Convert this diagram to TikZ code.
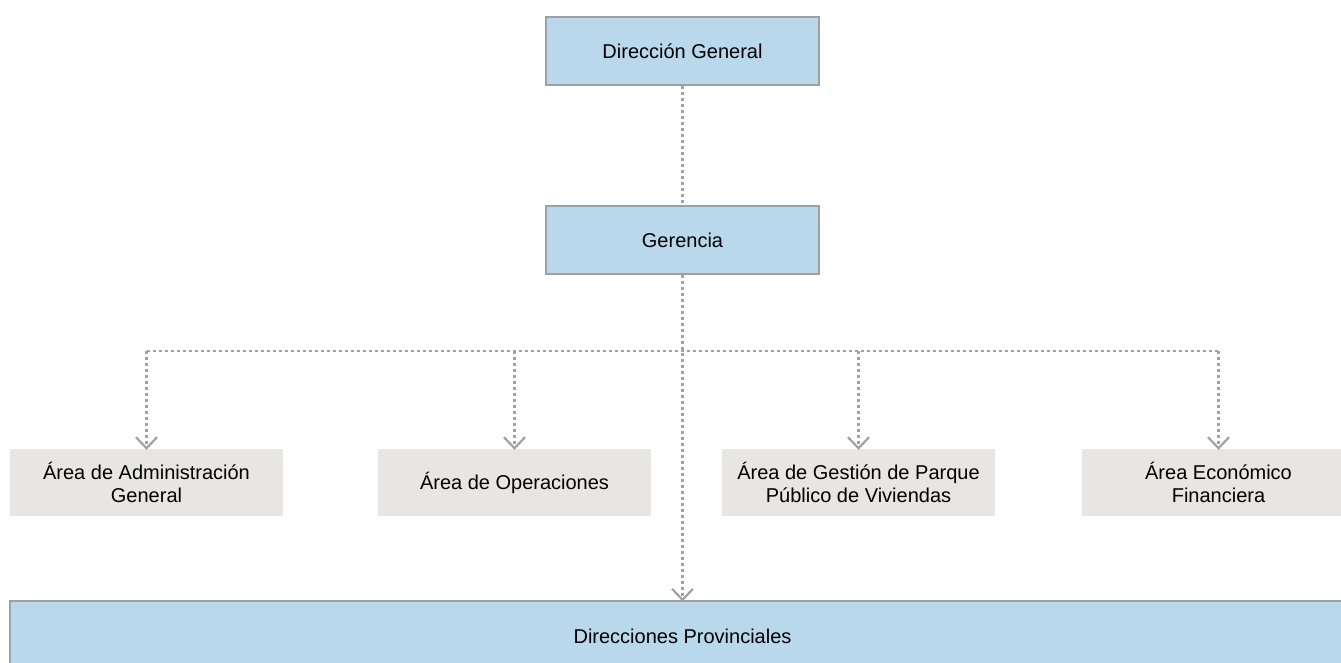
\documentclass[tikz,border=0pt]{standalone}
\usepackage{fontspec}
\setmainfont{Liberation Sans}
\usetikzlibrary{arrows.meta}
\definecolor{boxblue}{HTML}{B9D8EC}
\definecolor{boxgray}{HTML}{E8E6E2}
\definecolor{edgegray}{HTML}{A0A0A0}
\definecolor{linegray}{HTML}{A2A2A2}
\tikzset{
  bluebox/.style={draw=edgegray, line width=1.2pt, fill=boxblue, minimum width=273pt, minimum height=68pt, inner sep=0pt, align=center, font=\fontsize{20}{23.5}\selectfont},
  graybox/.style={fill=boxgray, minimum width=273pt, minimum height=67pt, inner sep=0pt, align=center, font=\fontsize{20}{23.5}\selectfont},
  conn/.style={draw=linegray, line width=2.3pt, dash pattern=on 3pt off 3pt},
  arr/.style={conn, -{Straight Barb[length=11pt,width=21pt,line width=2.2pt]}},
}
\begin{document}
\begin{tikzpicture}[x=1pt,y=-1pt]
\clip (0,0) rectangle (1341,662);
\fill[white] (0,0) rectangle (1341,662);
\node[bluebox] (dg) at (682.5,51) {Dirección General};
\node[bluebox] (ger) at (682.5,240) {Gerencia};
\node[graybox] (a1) at (146.5,482.5) {Área de Administración\\General};
\node[graybox] (a2) at (514.5,482.5) {Área de Operaciones};
\node[graybox] (a3) at (858.5,482.5) {Área de Gestión de Parque\\Público de Viviendas};
\node[graybox] (a4) at (1218.5,482.5) {Área Económico\\Financiera};
\node[bluebox, minimum width=1345pt, minimum height=70pt] (dp) at (682.5,636) {Direcciones Provinciales};
\coordinate (bus) at (682.5,351);
\draw[conn] (dg.south) -- (ger.north);
\draw[conn] (a1.north |- bus) -- (a4.north |- bus);
\draw[arr] (a1.north |- bus) -- ([yshift=-1pt]a1.north);
\draw[arr] (a2.north |- bus) -- ([yshift=-1pt]a2.north);
\draw[arr] (a3.north |- bus) -- ([yshift=-1pt]a3.north);
\draw[arr] (a4.north |- bus) -- ([yshift=-1pt]a4.north);
\draw[arr] (ger.south) -- ([yshift=-1pt]dp.north);
\end{tikzpicture}
\end{document}
